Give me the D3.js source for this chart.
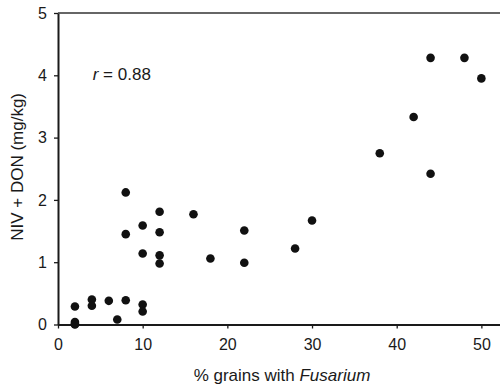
<!DOCTYPE html>
<html>
<head>
<meta charset="utf-8">
<script src="https://cdn.jsdelivr.net/npm/d3@7"></script>
<style>
  body { margin: 0; background: #fff; }
  text { font-family: "Liberation Sans", Arial, sans-serif; fill: #1a1a1a; }
</style>
</head>
<body>
<script>
var swidth = 500,
    sheight = 389,
    margin = {top: 13, right: 0, bottom: 65, left: 58},
    width = swidth - margin.left - margin.right,
    height = sheight - margin.top - margin.bottom;

// % grains with Fusarium vs NIV + DON (mg/kg)
var fusarium = [2, 2, 2, 2, 4, 4, 6, 7, 8, 8, 8, 10, 10, 10, 10,
                12, 12, 12, 12, 16, 18, 22, 22, 28, 30, 38, 42, 44, 44, 48, 50];
var toxin = [0.29, 0.04, 0.01, 0.0, 0.40, 0.30, 0.38, 0.08, 0.39, 2.12, 1.45, 1.59, 1.14, 0.32, 0.21,
             1.81, 1.48, 1.11, 0.98, 1.77, 1.06, 1.51, 0.99, 1.22, 1.67, 2.75, 3.33, 4.28, 2.42, 4.28, 3.95];
var xTicks = [0, 10, 20, 30, 40, 50];
var yTicks = [0, 1, 2, 3, 4, 5];

var svg = d3.select("body").append("svg")
    .attr("width", swidth)
    .attr("height", sheight)
  .append("g")
    .attr("transform", "translate(" + margin.left + "," + margin.top + ")");

var x = d3.scaleLinear().domain([0, 52.2]).range([0, width]);
var y = d3.scaleLinear().domain([0, 5]).range([height + 0.5, 0]);

// x axis
var xg = svg.append("g")
    .attr("transform", "translate(0," + y(0) + ")")
    .call(d3.axisBottom(x).tickValues(xTicks).tickFormat(d3.format("d"))
      .tickSize(4).tickSizeOuter(0).tickPadding(10));
xg.select(".domain").attr("stroke", "#1a1a1a").attr("stroke-width", 2);
xg.selectAll(".tick line").attr("stroke", "#1a1a1a").attr("stroke-width", 1.3);
xg.selectAll(".tick text").style("font-size", "16px").attr("fill", "#1a1a1a");

// y axis
var yg = svg.append("g")
    .call(d3.axisLeft(y).tickValues(yTicks).tickFormat(d3.format("d"))
      .tickSize(4).tickSizeOuter(0).tickPadding(7));
yg.select(".domain").attr("stroke", "#1a1a1a").attr("stroke-width", 2);
yg.selectAll(".tick line").attr("stroke", "#1a1a1a").attr("stroke-width", 1.3);
yg.selectAll(".tick text").style("font-size", "16px").attr("fill", "#1a1a1a");

// top frame line
svg.append("line")
    .attr("x1", 0).attr("x2", width + margin.right)
    .attr("y1", y(5)).attr("y2", y(5))
    .attr("stroke", "#333").attr("stroke-width", 1.5);

// points
svg.append("g").selectAll("circle")
    .data(fusarium.map(function(d, i) { return [d, toxin[i]]; }))
  .enter().append("circle")
    .attr("cx", function(d) { return x(d[0]); })
    .attr("cy", function(d) { return y(d[1]); })
    .attr("r", 4.3)
    .attr("fill", "#111");

// r annotation
var rt = svg.append("text")
    .attr("x", x(4.1))
    .attr("y", y(3.93))
    .style("font-size", "17px");
rt.append("tspan").style("font-style", "italic").text("r");
rt.append("tspan").text(" = 0.88");

// axis titles
svg.append("text")
    .attr("x", 224)
    .attr("y", height + 57)
    .attr("text-anchor", "middle")
    .style("font-size", "17px")
    .call(function(t) {
      t.append("tspan").text("% grains with ");
      t.append("tspan").style("font-style", "italic").text("Fusarium");
    });

svg.append("text")
    .attr("transform", "translate(-35," + y(2.53) + ") rotate(-90)")
    .attr("text-anchor", "middle")
    .style("font-size", "17px")
    .text("NIV + DON (mg/kg)");
</script>
</body>
</html>
